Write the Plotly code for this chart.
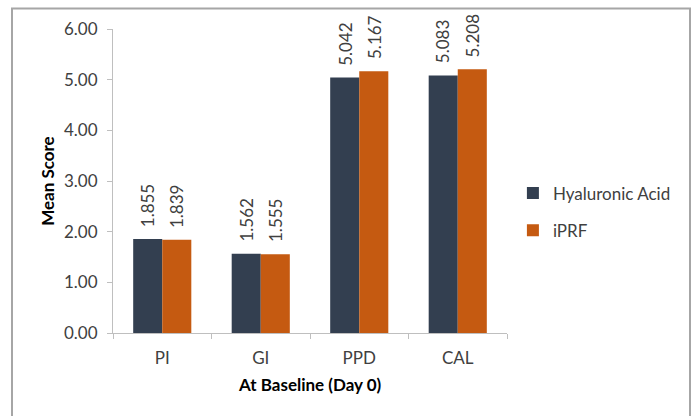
import plotly.graph_objects as go

categories = ["PI", "GI", "PPD", "CAL"]
ha_values = [1.855, 1.562, 5.042, 5.083]
iprf_values = [1.839, 1.555, 5.167, 5.208]
series_names = ["Hyaluronic Acid", "iPRF"]
y_ticks = [0, 1, 2, 3, 4, 5, 6]
y_tick_labels = ["0.00", "1.00", "2.00", "3.00", "4.00", "5.00", "6.00"]

HA_COLOR = "#333F50"
IPRF_COLOR = "#C55A11"
FONT = "Lato, 'Open Sans', sans-serif"
FS = 17
BARGAP = 0.41

fig = go.Figure()
fig.add_trace(go.Bar(x=categories, y=ha_values, name=series_names[0],
                     marker=dict(color=HA_COLOR, line=dict(width=0)),
                     legendgroup="a"))
fig.add_trace(go.Bar(x=categories, y=iprf_values, name=series_names[1],
                     marker=dict(color=IPRF_COLOR, line=dict(width=0)),
                     legendgroup="b"))

half = (1 - BARGAP) / 4
annotations = []
for series, off in ((ha_values, -half), (iprf_values, half)):
    for i, v in enumerate(series):
        annotations.append(dict(x=i + off, y=v, xref="x", yref="y",
                                text=f"{v:.3f}", textangle=-90, showarrow=False,
                                yanchor="bottom", xanchor="center", yshift=10,
                                font=dict(family=FONT, size=FS, color="#404040")))

annotations.append(dict(x=0.5, y=-0.17, xref="paper", yref="paper",
                        text="<b>At Baseline (Day 0)</b>", showarrow=False,
                        yanchor="middle", xanchor="center",
                        font=dict(family=FONT, size=FS, color="#000000")))
annotations.append(dict(x=-0.168, y=0.5, xref="paper", yref="paper",
                        text="<b>Mean Score</b>", showarrow=False, textangle=-90,
                        yanchor="middle", xanchor="center",
                        font=dict(family=FONT, size=FS, color="#000000")))

W, H = 694, 416
L, R, T, B = 113, 187, 29, 83
pw, ph = W - L - R, H - T - B

def px2paper_x(px):
    return (px - L) / pw

def px2paper_y(py):
    return (H - B - py) / ph

fig.add_shape(type="rect", xref="paper", yref="paper",
              x0=px2paper_x(12), x1=px2paper_x(690),
              y0=px2paper_y(430), y1=px2paper_y(8.5),
              line=dict(color="#A6A6A6", width=2), fillcolor="rgba(0,0,0,0)",
              layer="below")

fig.update_layout(
    width=W, height=H,
    margin=dict(l=L, r=R, t=T, b=B, pad=0),
    paper_bgcolor="white", plot_bgcolor="white",
    barmode="group", bargap=BARGAP, bargroupgap=0,
    font=dict(family=FONT, size=FS, color="#404040"),
    showlegend=True,
    legend=dict(x=1.015, y=0.398, xanchor="left", yanchor="middle",
                tracegroupgap=12, font=dict(family=FONT, size=FS, color="#404040"),
                bgcolor="rgba(0,0,0,0)", itemwidth=30),
    annotations=annotations,
    xaxis=dict(type="category", showline=True, linecolor="#BFBFBF", linewidth=1,
               ticks="outside", ticklen=5, tickcolor="#BFBFBF", tickson="boundaries",
               showgrid=False, ticklabelstandoff=10,
               tickfont=dict(family=FONT, size=FS, color="#404040")),
    yaxis=dict(range=[0, 6], tickvals=y_ticks, ticktext=y_tick_labels,
               showline=True, linecolor="#BFBFBF", linewidth=1,
               ticks="outside", ticklen=5, tickcolor="#BFBFBF",
               showgrid=False, zeroline=False, ticklabelstandoff=6,
               tickfont=dict(family=FONT, size=FS, color="#404040")),
)

fig.write_html("out.html")
